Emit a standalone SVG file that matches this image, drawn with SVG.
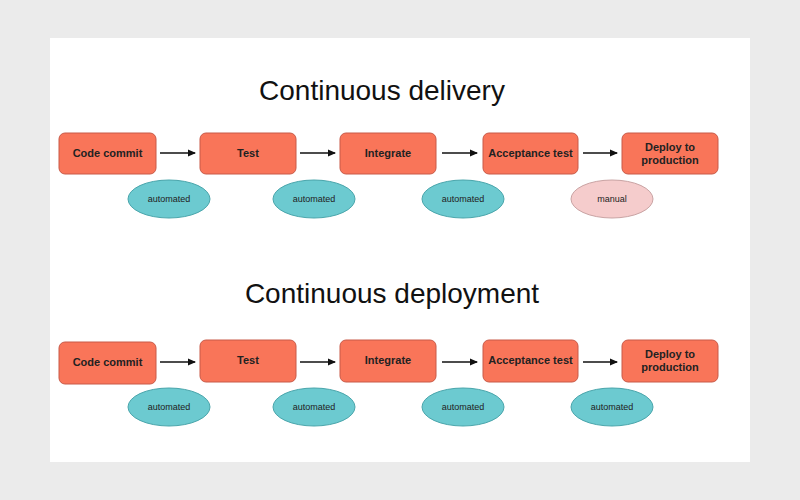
<svg xmlns="http://www.w3.org/2000/svg" width="800" height="500" viewBox="0 0 800 500">
<defs>
<style>
.box{fill:#f97559;stroke:#c85a48;stroke-width:1}
.auto{fill:#6ccad0;stroke:#49a5ab;stroke-width:1}
.man{fill:#f5cccc;stroke:#c9a3a3;stroke-width:1}
.bt{font-family:"Liberation Sans",Arial,sans-serif;font-size:11px;font-weight:bold;fill:#222;text-anchor:middle}
.et{font-family:"Liberation Sans",Arial,sans-serif;font-size:9px;fill:#222;text-anchor:middle}
.title{font-family:"Liberation Sans",Arial,sans-serif;font-size:28px;fill:#111;text-anchor:middle}
.arr{stroke:#111;stroke-width:1.5;fill:none;marker-end:url(#ah)}
</style>
<marker id="ah" markerWidth="8" markerHeight="8" refX="7" refY="4" orient="auto" markerUnits="userSpaceOnUse">
<path d="M0,0.5 L8,4 L0,7.5 Z" fill="#111"/>
</marker>
</defs>
<rect width="800" height="500" fill="#ebebeb"/>
<rect x="50" y="38" width="700" height="424" fill="#ffffff"/>
<text class="title" x="382" y="100">Continuous delivery</text>
<text class="title" x="392" y="303">Continuous deployment</text>

<g id="connectors">
<line class="arr" x1="160" y1="153" x2="195" y2="153"/>
<line class="arr" x1="300" y1="153" x2="335" y2="153"/>
<line class="arr" x1="442" y1="153" x2="477" y2="153"/>
<line class="arr" x1="583" y1="153" x2="617" y2="153"/>
<line class="arr" x1="160" y1="362" x2="195" y2="362"/>
<line class="arr" x1="300" y1="362" x2="335" y2="362"/>
<line class="arr" x1="442" y1="362" x2="477" y2="362"/>
<line class="arr" x1="583" y1="362" x2="617" y2="362"/>
</g>

<g id="d-commit"><rect class="box" x="59" y="133" width="97" height="41" rx="6"/><text class="bt" x="107.5" y="157">Code commit</text></g>
<g id="d-test"><rect class="box" x="200" y="133" width="96" height="41" rx="6"/><text class="bt" x="248" y="157">Test</text></g>
<g id="d-integrate"><rect class="box" x="340" y="133" width="96" height="41" rx="6"/><text class="bt" x="388" y="157">Integrate</text></g>
<g id="d-accept"><rect class="box" x="483" y="133" width="95" height="41" rx="6"/><text class="bt" x="530.5" y="157">Acceptance test</text></g>
<g id="d-deploy"><rect class="box" x="622" y="133" width="96" height="41" rx="6"/><text class="bt" x="670" y="151">Deploy to</text><text class="bt" x="670" y="164">production</text></g>

<g id="d-auto1"><ellipse class="auto" cx="169" cy="199" rx="41" ry="19"/><text class="et" x="169" y="202">automated</text></g>
<g id="d-auto2"><ellipse class="auto" cx="314" cy="199" rx="41" ry="19"/><text class="et" x="314" y="202">automated</text></g>
<g id="d-auto3"><ellipse class="auto" cx="463" cy="199" rx="41" ry="19"/><text class="et" x="463" y="202">automated</text></g>
<g id="d-manual"><ellipse class="man" cx="612" cy="199" rx="41" ry="19"/><text class="et" x="612" y="202">manual</text></g>

<g id="p-commit"><rect class="box" x="59" y="342" width="97" height="42" rx="6"/><text class="bt" x="107.5" y="366">Code commit</text></g>
<g id="p-test"><rect class="box" x="200" y="340" width="96" height="42" rx="6"/><text class="bt" x="248" y="364">Test</text></g>
<g id="p-integrate"><rect class="box" x="340" y="340" width="96" height="42" rx="6"/><text class="bt" x="388" y="364">Integrate</text></g>
<g id="p-accept"><rect class="box" x="483" y="340" width="95" height="42" rx="6"/><text class="bt" x="530.5" y="364">Acceptance test</text></g>
<g id="p-deploy"><rect class="box" x="622" y="340" width="96" height="42" rx="6"/><text class="bt" x="670" y="358">Deploy to</text><text class="bt" x="670" y="371">production</text></g>

<g id="p-auto1"><ellipse class="auto" cx="169" cy="407" rx="41" ry="19"/><text class="et" x="169" y="410">automated</text></g>
<g id="p-auto2"><ellipse class="auto" cx="314" cy="407" rx="41" ry="19"/><text class="et" x="314" y="410">automated</text></g>
<g id="p-auto3"><ellipse class="auto" cx="463" cy="407" rx="41" ry="19"/><text class="et" x="463" y="410">automated</text></g>
<g id="p-auto4"><ellipse class="auto" cx="612" cy="407" rx="41" ry="19"/><text class="et" x="612" y="410">automated</text></g>
</svg>
